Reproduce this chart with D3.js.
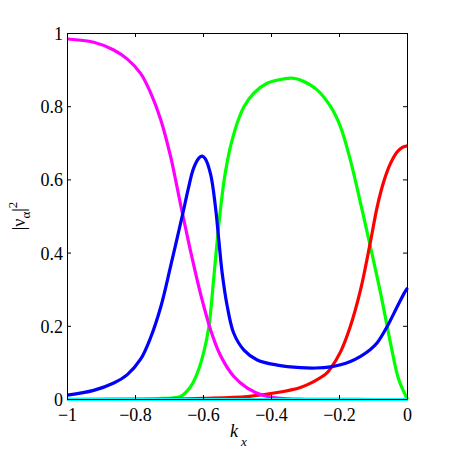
<!DOCTYPE html>
<html><head><meta charset="utf-8">
<script src="https://cdn.jsdelivr.net/npm/d3@7"></script>
<style>body{margin:0;background:#fff}</style>
</head><body><svg id="c" width="450" height="450"></svg>
<script>
const xTicks = [-1, -0.8, -0.6, -0.4, -0.2, 0];
const xTickLabels = ["−1", "−0.8", "−0.6", "−0.4", "−0.2", "0"];
const yTicks = [0, 0.2, 0.4, 0.6, 0.8, 1];
const yTickLabels = ["0", "0.2", "0.4", "0.6", "0.8", "1"];

const kMagenta = [-1, -0.923, -0.864, -0.824, -0.785, -0.756, -0.726, -0.697, -0.682, -0.668, -0.653, -0.638, -0.609, -0.579, -0.55, -0.512, -0.471, -0.424, -0.374, -0.3, -0.15, 0];
const vMagenta = [0.985, 0.976, 0.955, 0.93, 0.891, 0.839, 0.765, 0.665, 0.60, 0.535, 0.47, 0.405, 0.29, 0.19, 0.12, 0.064, 0.031, 0.011, 0.003, 0.0006, 0.0001, 0];

const kBlue = [-1, -0.923, -0.864, -0.824, -0.785, -0.756, -0.726, -0.697, -0.677, -0.658, -0.645, -0.629, -0.613, -0.604, -0.595, -0.579, -0.565, -0.555, -0.545, -0.53, -0.511, -0.481, -0.442, -0.383, -0.315, -0.27, -0.226, -0.197, -0.168, -0.138, -0.11, -0.089, -0.06, -0.03, -0.01, 0];
const vBlue = [0.012, 0.025, 0.045, 0.068, 0.11, 0.168, 0.252, 0.363, 0.443, 0.52, 0.575, 0.632, 0.66, 0.665, 0.658, 0.615, 0.527, 0.436, 0.345, 0.254, 0.181, 0.135, 0.108, 0.094, 0.087, 0.086, 0.089, 0.095, 0.104, 0.118, 0.136, 0.155, 0.199, 0.254, 0.29, 0.305];

const kGreen = [-1, -0.8, -0.72, -0.668, -0.638, -0.619, -0.599, -0.584, -0.57, -0.56, -0.55, -0.54, -0.53, -0.521, -0.501, -0.481, -0.452, -0.413, -0.364, -0.34, -0.315, -0.266, -0.226, -0.197, -0.168, -0.138, -0.109, -0.079, -0.05, -0.026, 0];
const vGreen = [0.0005, 0.001, 0.003, 0.008, 0.035, 0.07, 0.13, 0.2, 0.33, 0.43, 0.52, 0.595, 0.65, 0.69, 0.755, 0.80, 0.837, 0.864, 0.876, 0.878, 0.873, 0.846, 0.80, 0.745, 0.654, 0.536, 0.417, 0.29, 0.154, 0.055, 0];

const kRed = [-1, -0.8, -0.7, -0.6, -0.471, -0.383, -0.315, -0.276, -0.24, -0.226, -0.197, -0.168, -0.138, -0.109, -0.089, -0.07, -0.05, -0.03, -0.015, 0];
const vRed = [0, 0.0005, 0.001, 0.003, 0.008, 0.019, 0.033, 0.049, 0.07, 0.085, 0.13, 0.2, 0.3, 0.431, 0.527, 0.595, 0.645, 0.677, 0.689, 0.693];

const kCyan = [-1, -0.5, 0];
const vCyan = [0, 0, 0];

const series = [
  {k: kGreen, v: vGreen, color: "#00ff00"},
  {k: kRed, v: vRed, color: "#ff0000"},
  {k: kMagenta, v: vMagenta, color: "#ff00ff"},
  {k: kBlue, v: vBlue, color: "#0000ff"},
  {k: kCyan, v: vCyan, color: "#00ffff"}
];

const svg = d3.select("#c");
const x = d3.scaleLinear().domain([-1, 0]).range([67, 407]);
const y = d3.scaleLinear().domain([0, 1]).range([399, 33]);
const font = "'Liberation Serif', 'Times New Roman', serif";

const line = d3.line().x(d => x(d[0]) + 0.5).y(d => y(d[1]) + 0.5).curve(d3.curveCatmullRom.alpha(0.5));
series.forEach(s => {
  svg.append("path")
    .datum(s.k.map((kk, i) => [kk, s.v[i]]))
    .attr("d", line)
    .attr("fill", "none")
    .attr("stroke", s.color)
    .attr("stroke-width", 3.2)
    .attr("stroke-linejoin", "round");
});

function styleAxis(g) {
  g.selectAll("path, line").attr("stroke", "#000").attr("stroke-width", 1);
  g.selectAll("text").style("font-family", font).style("font-size", "18px").attr("fill", "#000");
}

const gB = svg.append("g").attr("transform", "translate(0,399)")
  .call(d3.axisBottom(x).tickValues(xTicks).tickFormat((d, i) => xTickLabels[i]).tickSizeInner(-4).tickSizeOuter(0).tickPadding(9));
styleAxis(gB);
gB.selectAll("text").attr("dy", "0.71em");

const gT = svg.append("g").attr("transform", "translate(0,33)")
  .call(d3.axisTop(x).tickValues(xTicks).tickFormat("").tickSizeInner(-4).tickSizeOuter(0));
styleAxis(gT);

const gL = svg.append("g").attr("transform", "translate(67,0)")
  .call(d3.axisLeft(y).tickValues(yTicks).tickFormat((d, i) => yTickLabels[i]).tickSizeInner(-4).tickSizeOuter(0).tickPadding(4));
styleAxis(gL);
gL.selectAll("text").attr("dy", "0.36em");

const gR = svg.append("g").attr("transform", "translate(407,0)")
  .call(d3.axisRight(y).tickValues(yTicks).tickFormat("").tickSizeInner(-4).tickSizeOuter(0));
styleAxis(gR);

// x label
const xl = svg.append("text").attr("x", 230).attr("y", 437)
  .style("font-family", font).style("font-size", "18px").style("font-style", "italic").attr("fill", "#000");
xl.append("tspan").text("k");
xl.append("tspan").attr("dx", 3).attr("dy", 9).style("font-size", "13px").text("x");

// y label
const yl = svg.append("text").attr("transform", "translate(25,216) rotate(-90)")
  .attr("text-anchor", "middle")
  .style("font-family", font).style("font-size", "18px").attr("fill", "#000");
yl.append("tspan").text("|ν");
yl.append("tspan").attr("dy", 5).style("font-size", "13px").text("α");
yl.append("tspan").attr("dy", -5).text("|");
yl.append("tspan").attr("dy", -8).style("font-size", "13px").text("2");
</script>
</body></html>
